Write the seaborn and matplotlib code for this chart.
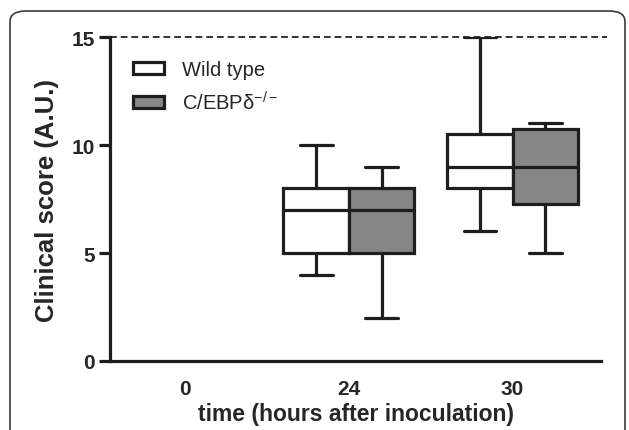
import numpy as np
import pandas as pd
import matplotlib
matplotlib.use("Agg")
import matplotlib.pyplot as plt
import seaborn as sns
from matplotlib.patches import FancyBboxPatch

# five-number summaries (min, q1, median, q3, max)
time_points = ["0", "24", "30"]
groups = ["Wild type", "C/EBPδ$^{-/-}$"]
wt_24 = [4, 5, 7, 8, 10]
wt_30 = [6, 8, 9, 10.5, 15]
ko_24 = [2, 5, 7, 8, 9]
ko_30 = [5, 7.25, 9, 10.75, 11]
box_colors = ["white", "#868686"]

rows = []
for t, vals in [("24", wt_24), ("30", wt_30)]:
    rows += [{"time": t, "group": groups[0], "score": v} for v in vals]
for t, vals in [("24", ko_24), ("30", ko_30)]:
    rows += [{"time": t, "group": groups[1], "score": v} for v in vals]
df = pd.DataFrame(rows)

sns.set_style("ticks")
plt.rcParams['font.family'] = ['Liberation Sans', 'DejaVu Sans']
plt.rcParams['mathtext.fontset'] = 'custom'
plt.rcParams['mathtext.rm'] = 'Liberation Sans'

fig = plt.figure(figsize=(6.29, 4.31), dpi=100)
ax = fig.add_axes([110 / 629, 1 - 362 / 431, 491 / 629, 324 / 431])

line_c = "#1e1e1e"
sns.boxplot(data=df, x="time", y="score", hue="group", order=time_points,
            hue_order=groups, palette=box_colors, whis=(0, 100), width=0.8,
            gap=0, linewidth=2.3, linecolor=line_c, saturation=1,
            showfliers=False, ax=ax)

ax.set_xlim(-0.46, 2.54)
ax.set_ylim(0, 15)
ax.set_yticks([0, 5, 10, 15])
ax.axhline(15, xmin=0, xmax=1.012, color="#333333", lw=1.4,
           ls=(0, (3.5, 2)), clip_on=False, zorder=0)

sns.despine(ax=ax)
ax.spines["left"].set_linewidth(2.3)
ax.spines["bottom"].set_linewidth(2.3)
ax.spines["left"].set_color(line_c)
ax.spines["bottom"].set_color(line_c)
ax.tick_params(axis="y", length=8, width=2.3, color=line_c, pad=3)
ax.tick_params(axis="x", length=0, pad=13)
for lab in ax.get_xticklabels() + ax.get_yticklabels():
    lab.set_fontsize(15)
    lab.set_fontweight("bold")

ax.set_xlabel("time (hours after inoculation)", fontsize=16.5,
              fontweight="bold", labelpad=3)
ax.set_ylabel("Clinical score (A.U.)", fontsize=18.5, fontweight="bold",
              labelpad=9)

handles, labels = ax.get_legend_handles_labels()
for h in handles:
    h.set_edgecolor(line_c)
    h.set_linewidth(2.3)
ax.legend(handles, labels, loc="upper left", bbox_to_anchor=(0.01, 0.985),
          frameon=False, fontsize=14.5, handlelength=1.55, handleheight=0.5,
          handletextpad=0.9, labelspacing=0.55)

# rounded frame around the panel
frame = FancyBboxPatch((10 / 629, -0.2), 615 / 629, 0.2 + 1 - 12 / 431,
                       boxstyle="round,pad=0,rounding_size=0.025",
                       transform=fig.transFigure, fill=False,
                       ec="#3a3a3a", lw=1.2, clip_on=False)
fig.patches.append(frame)

fig.savefig("out.png", dpi=100)
